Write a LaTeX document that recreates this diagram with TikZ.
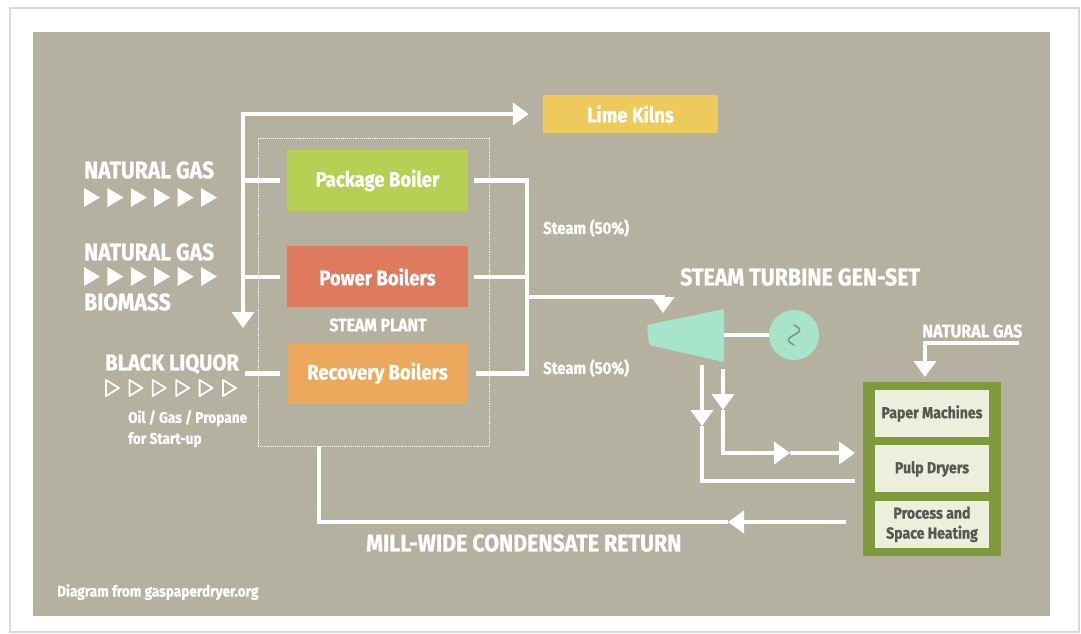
\documentclass[tikz,border=0pt]{standalone}
\usepackage{fontspec}
\setmainfont{Fira Sans}[FakeStretch=0.88, BoldFeatures={FakeBold=0.8}]
\usetikzlibrary{arrows.meta, positioning, shapes.geometric}

\definecolor{panel}{RGB}{181,177,161}
\definecolor{kiln}{RGB}{238,202,92}
\definecolor{pkg}{RGB}{183,207,82}
\definecolor{pwr}{RGB}{224,122,94}
\definecolor{rec}{RGB}{236,168,92}
\definecolor{mint}{RGB}{168,228,202}
\definecolor{olive}{RGB}{126,154,60}
\definecolor{cream}{RGB}{237,238,222}
\definecolor{darktext}{RGB}{88,88,82}

\tikzstyle{pipe} = [draw=white, line width=4.5pt]
\tikzstyle{line} = [pipe, -{Triangle[width=22pt,length=16pt]}]

\begin{document}
\begin{tikzpicture}[x=1pt, y=-1pt, node distance=35pt]

  % Define styles
  \tikzstyle{boiler} = [rectangle, minimum width=181pt, minimum height=61pt, text centered, text=white, font=\bfseries\fontsize{21}{24}\selectfont]
  \tikzstyle{bigcaps} = [text=white, inner sep=0pt, font=\bfseries\fontsize{24}{26}\selectfont]
  \tikzstyle{smalltext} = [text=white, inner sep=0pt, align=left, font=\bfseries\fontsize{15.5}{21}\selectfont]
  \tikzstyle{userbox} = [rectangle, fill=cream, minimum width=114pt, minimum height=47pt, text=darktext, align=center, font=\bfseries\fontsize{16}{20}\selectfont]
  \tikzstyle{twoway} = [pipe, {Triangle[width=22pt,length=16pt]}-{Triangle[width=22pt,length=16pt]}]

  % Background
  \useasboundingbox (0,0) rectangle (1081,633);
  \fill[white] (0,0) rectangle (1081,633);
  \draw[gray!30, line width=1.5pt] (10,8) rectangle (1079,632);
  \fill[panel] (33,32) rectangle (1050,616);

  % Place nodes
  \node [draw=white, densely dotted, line width=0.9pt, minimum width=231pt, minimum height=308pt] (plant) at (373.5,292) {};
  \node [boiler, fill=pkg] (package) at (377.5,180.5) {Package Boiler};
  \node [boiler, fill=pwr, below=of package] (power) {Power Boilers};
  \node [boiler, fill=rec, below=of power] (recovery) {Recovery Boilers};
  \node [bigcaps, font=\bfseries\fontsize{18}{20}\selectfont] (plantname) at (378,325) {STEAM PLANT};
  \node [rectangle, fill=kiln, minimum width=175pt, minimum height=38pt, text=white, font=\bfseries\fontsize{21}{24}\selectfont] (kilns) at (630.5,114) {Lime Kilns};

  \node [bigcaps, anchor=west] (gas1) at (84,170) {NATURAL GAS};
  \node [bigcaps, anchor=west] (gas2) at (84,252) {NATURAL GAS};
  \node [bigcaps, anchor=west] (biomass) at (84,302) {BIOMASS};
  \node [bigcaps, anchor=west, font=\bfseries\fontsize{23}{25}\selectfont] (liquor) at (105,364) {BLACK LIQUOR};
  \node [smalltext, anchor=north west] (startup) at (128,410) {Oil / Gas / Propane\\for Start-up};

  % fuel feed triangles
  \foreach \i in {0,...,5} {
    \fill[white] (84+23.4*\i,188) -- ++(16,9.5) -- ++(-16,9.5) -- cycle;
    \fill[white] (84+23.4*\i,267) -- ++(16,9.5) -- ++(-16,9.5) -- cycle;
    \draw[white, line width=1.8pt, line join=round] (106+23.4*\i,380) -- ++(13,8) -- ++(-13,8) -- cycle;
  }

  \fill[mint, rounded corners=2pt] (647,325) -- (724,309) -- (724,362) -- (649,345) -- cycle;
  \node [circle, fill=mint, minimum size=50pt, inner sep=0pt] (gen) at (794,335) {};
  \draw[mint!45!darktext, line width=1.6pt, line cap=round] plot[domain=-10:10, samples=40, smooth] ({794-5.5*sin(18*\x)}, {335+\x});
  \node [bigcaps, anchor=west, font=\bfseries\fontsize{24.3}{27}\selectfont] (gensetname) at (680,277) {STEAM TURBINE GEN-SET};
  \node [smalltext, anchor=west, font=\bfseries\fontsize{17}{20}\selectfont] (steamtop) at (543,228) {Steam (50\%)};
  \node [smalltext, anchor=west, font=\bfseries\fontsize{17}{20}\selectfont] (steambot) at (543,368) {Steam (50\%)};

  \node [rectangle, fill=olive, minimum width=138pt, minimum height=174pt] (users) at (932,468.5) {};
  \node [userbox] (paper) at (932,413.5) {Paper Machines};
  \node [userbox, below=8pt of paper] (pulp) {Pulp Dryers};
  \node [userbox, below=8pt of pulp] (heating) {Process and\\Space Heating};
  \node [bigcaps, anchor=west, font=\bfseries\fontsize{18.5}{22}\selectfont] (gas3) at (922,331) {NATURAL GAS};

  \node [bigcaps, anchor=west, font=\bfseries\fontsize{24.3}{27}\selectfont] (condensate) at (366,543) {MILL-WIDE CONDENSATE RETURN};
  \node [smalltext, anchor=west] (credit) at (57,592) {Diagram from gaspaperdryer.org};

  % Junction points
  \coordinate (busBot) at (243,328);
  \coordinate (in3) at (245,0);
  \coordinate (header) at (527,0);
  \coordinate (steamIn) at (527,297);
  \coordinate (turbineIn) at (663,313);
  \coordinate (turbineOut) at (724,335);
  \coordinate (outA) at (723,369);
  \coordinate (outAmid) at (723,410);
  \coordinate (pulpArrow) at (790,453);
  \coordinate (pulpIn) at (855,453);
  \coordinate (outB) at (702,365);
  \coordinate (outBmid) at (702,426);
  \coordinate (heatIn) at (855,481);
  \coordinate (retStart) at (846,522);
  \coordinate (retArrow) at (728,522);
  \coordinate (retUp) at (319,446);
  \coordinate (gasStart) at (1019,343);
  \coordinate (gasDrop) at (925,377);

  % Draw edges
  \path [twoway, shorten >=14pt] (busBot) |- (kilns.west);
  \path [pipe, shorten >=7pt] (busBot |- package.west) -- (package.west);
  \path [pipe, shorten >=7pt] (busBot |- power.west) -- (power.west);
  \path [pipe, shorten >=7pt] (in3 |- recovery.west) -- (recovery.west);
  \path [pipe] ([xshift=6pt]package.east) -| (header |- recovery.east) -- ([xshift=8pt]recovery.east);
  \path [pipe] ([xshift=6pt]power.east) -- (header |- power.east);
  \path [line] (steamIn) -| (turbineIn);
  \path [pipe] (turbineOut) -- (gen.west);
  \path [line] (outA) -- (outAmid);
  \path [line] (outAmid) |- (pulpArrow);
  \path [line] (pulpArrow) -- (pulpIn);
  \path [line] (outB) -- (outBmid);
  \path [pipe] (outBmid) |- (heatIn);
  \path [line] (retStart) -- (retArrow);
  \path [pipe] (retArrow) -| (retUp);
  \path [line] (gasStart) -| (gasDrop);

\end{tikzpicture}
\end{document}
